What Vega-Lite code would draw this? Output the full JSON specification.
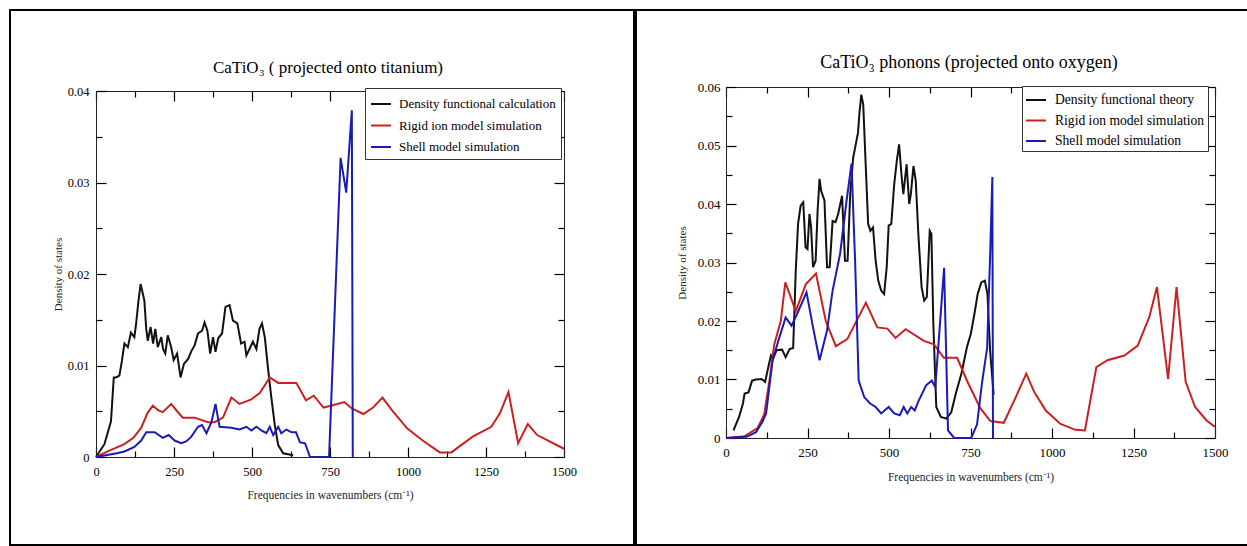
{
  "$schema": "https://vega.github.io/schema/vega-lite/v6.json",
  "padding": {"left": 9, "top": 9, "right": 0, "bottom": 0},
  "background": "white",
  "spacing": 0,
  "config": {
    "view": {"stroke": "black", "strokeWidth": 2},
    "font": "Liberation Serif",
    "axis": {
      "grid": false,
      "labelFont": "Liberation Serif",
      "labelColor": "black",
      "labelFlush": false,
      "labelOverlap": false,
      "labelBound": false,
      "domainColor": "#222",
      "domainWidth": 1,
      "tickColor": "black",
      "tickWidth": 1.2,
      "tickOpacity": 1,
      "titleFont": "Liberation Serif",
      "titleFontWeight": "normal",
      "titleColor": "#222"
    },
    "legend": {
      "title": null,
      "fillColor": "white",
      "strokeColor": "#333",
      "symbolType": "stroke",
      "symbolStrokeWidth": 2,
      "symbolSize": 400,
      "labelFont": "Liberation Serif",
      "labelColor": "black",
      "labelLimit": 400
    }
  },
  "resolve": {"scale": {"color": "independent"}, "legend": {"color": "independent"}},
  "datasets": {
    "left": [
      {"s": "Density functional calculation", "x": 0, "y": 0},
      {"s": "Density functional calculation", "x": 27, "y": 0.0014},
      {"s": "Density functional calculation", "x": 48, "y": 0.0039},
      {"s": "Density functional calculation", "x": 57, "y": 0.0087},
      {"s": "Density functional calculation", "x": 64, "y": 0.0087},
      {"s": "Density functional calculation", "x": 75, "y": 0.0089},
      {"s": "Density functional calculation", "x": 83, "y": 0.0105},
      {"s": "Density functional calculation", "x": 91, "y": 0.0124},
      {"s": "Density functional calculation", "x": 102, "y": 0.012},
      {"s": "Density functional calculation", "x": 112, "y": 0.0136},
      {"s": "Density functional calculation", "x": 123, "y": 0.0131},
      {"s": "Density functional calculation", "x": 128, "y": 0.0144},
      {"s": "Density functional calculation", "x": 136, "y": 0.017},
      {"s": "Density functional calculation", "x": 143, "y": 0.0189},
      {"s": "Density functional calculation", "x": 149, "y": 0.018},
      {"s": "Density functional calculation", "x": 155, "y": 0.0171},
      {"s": "Density functional calculation", "x": 161, "y": 0.014},
      {"s": "Density functional calculation", "x": 166, "y": 0.0127},
      {"s": "Density functional calculation", "x": 175, "y": 0.0142},
      {"s": "Density functional calculation", "x": 183, "y": 0.0124},
      {"s": "Density functional calculation", "x": 190, "y": 0.014},
      {"s": "Density functional calculation", "x": 198, "y": 0.012},
      {"s": "Density functional calculation", "x": 209, "y": 0.0131},
      {"s": "Density functional calculation", "x": 215, "y": 0.0118},
      {"s": "Density functional calculation", "x": 222, "y": 0.0113},
      {"s": "Density functional calculation", "x": 230, "y": 0.0133},
      {"s": "Density functional calculation", "x": 241, "y": 0.012},
      {"s": "Density functional calculation", "x": 249, "y": 0.0106},
      {"s": "Density functional calculation", "x": 260, "y": 0.0113},
      {"s": "Density functional calculation", "x": 271, "y": 0.0087},
      {"s": "Density functional calculation", "x": 282, "y": 0.0102},
      {"s": "Density functional calculation", "x": 295, "y": 0.0107},
      {"s": "Density functional calculation", "x": 306, "y": 0.0116},
      {"s": "Density functional calculation", "x": 316, "y": 0.0122},
      {"s": "Density functional calculation", "x": 327, "y": 0.0135},
      {"s": "Density functional calculation", "x": 340, "y": 0.0138},
      {"s": "Density functional calculation", "x": 348, "y": 0.0147},
      {"s": "Density functional calculation", "x": 357, "y": 0.0138},
      {"s": "Density functional calculation", "x": 366, "y": 0.0113},
      {"s": "Density functional calculation", "x": 375, "y": 0.0131},
      {"s": "Density functional calculation", "x": 383, "y": 0.0115},
      {"s": "Density functional calculation", "x": 392, "y": 0.013},
      {"s": "Density functional calculation", "x": 404, "y": 0.0135},
      {"s": "Density functional calculation", "x": 415, "y": 0.0164},
      {"s": "Density functional calculation", "x": 428, "y": 0.0166},
      {"s": "Density functional calculation", "x": 439, "y": 0.0149},
      {"s": "Density functional calculation", "x": 453, "y": 0.0146},
      {"s": "Density functional calculation", "x": 465, "y": 0.0124},
      {"s": "Density functional calculation", "x": 476, "y": 0.0126},
      {"s": "Density functional calculation", "x": 482, "y": 0.0111},
      {"s": "Density functional calculation", "x": 492, "y": 0.0118},
      {"s": "Density functional calculation", "x": 503, "y": 0.0126},
      {"s": "Density functional calculation", "x": 514, "y": 0.0118},
      {"s": "Density functional calculation", "x": 524, "y": 0.014},
      {"s": "Density functional calculation", "x": 532, "y": 0.0146},
      {"s": "Density functional calculation", "x": 541, "y": 0.0131},
      {"s": "Density functional calculation", "x": 551, "y": 0.0098},
      {"s": "Density functional calculation", "x": 562, "y": 0.0065},
      {"s": "Density functional calculation", "x": 573, "y": 0.0035},
      {"s": "Density functional calculation", "x": 584, "y": 0.0013},
      {"s": "Density functional calculation", "x": 600, "y": 0.0004},
      {"s": "Density functional calculation", "x": 632, "y": 0.0002},
      {"s": "Rigid ion model simulation", "x": 0, "y": 0},
      {"s": "Rigid ion model simulation", "x": 43, "y": 0.0007},
      {"s": "Rigid ion model simulation", "x": 91, "y": 0.0014},
      {"s": "Rigid ion model simulation", "x": 120, "y": 0.0021},
      {"s": "Rigid ion model simulation", "x": 145, "y": 0.0032},
      {"s": "Rigid ion model simulation", "x": 165, "y": 0.0048},
      {"s": "Rigid ion model simulation", "x": 182, "y": 0.0056},
      {"s": "Rigid ion model simulation", "x": 200, "y": 0.0051},
      {"s": "Rigid ion model simulation", "x": 214, "y": 0.0049},
      {"s": "Rigid ion model simulation", "x": 241, "y": 0.0058},
      {"s": "Rigid ion model simulation", "x": 260, "y": 0.005},
      {"s": "Rigid ion model simulation", "x": 278, "y": 0.0043},
      {"s": "Rigid ion model simulation", "x": 316, "y": 0.0043},
      {"s": "Rigid ion model simulation", "x": 359, "y": 0.0038},
      {"s": "Rigid ion model simulation", "x": 380, "y": 0.0038},
      {"s": "Rigid ion model simulation", "x": 407, "y": 0.0043},
      {"s": "Rigid ion model simulation", "x": 434, "y": 0.0065},
      {"s": "Rigid ion model simulation", "x": 460, "y": 0.0058},
      {"s": "Rigid ion model simulation", "x": 498, "y": 0.0063},
      {"s": "Rigid ion model simulation", "x": 525, "y": 0.007},
      {"s": "Rigid ion model simulation", "x": 557, "y": 0.0087},
      {"s": "Rigid ion model simulation", "x": 584, "y": 0.0081},
      {"s": "Rigid ion model simulation", "x": 642, "y": 0.0081},
      {"s": "Rigid ion model simulation", "x": 673, "y": 0.0062},
      {"s": "Rigid ion model simulation", "x": 698, "y": 0.0067},
      {"s": "Rigid ion model simulation", "x": 729, "y": 0.0054},
      {"s": "Rigid ion model simulation", "x": 753, "y": 0.0056},
      {"s": "Rigid ion model simulation", "x": 796, "y": 0.006},
      {"s": "Rigid ion model simulation", "x": 820, "y": 0.0053},
      {"s": "Rigid ion model simulation", "x": 857, "y": 0.0047},
      {"s": "Rigid ion model simulation", "x": 888, "y": 0.0054},
      {"s": "Rigid ion model simulation", "x": 918, "y": 0.0065},
      {"s": "Rigid ion model simulation", "x": 949, "y": 0.0051},
      {"s": "Rigid ion model simulation", "x": 998, "y": 0.0031},
      {"s": "Rigid ion model simulation", "x": 1047, "y": 0.0018},
      {"s": "Rigid ion model simulation", "x": 1102, "y": 0.0005},
      {"s": "Rigid ion model simulation", "x": 1139, "y": 0.0005},
      {"s": "Rigid ion model simulation", "x": 1206, "y": 0.0022},
      {"s": "Rigid ion model simulation", "x": 1267, "y": 0.0033},
      {"s": "Rigid ion model simulation", "x": 1295, "y": 0.0048},
      {"s": "Rigid ion model simulation", "x": 1322, "y": 0.0071},
      {"s": "Rigid ion model simulation", "x": 1353, "y": 0.0015},
      {"s": "Rigid ion model simulation", "x": 1384, "y": 0.0036},
      {"s": "Rigid ion model simulation", "x": 1414, "y": 0.0024},
      {"s": "Rigid ion model simulation", "x": 1500, "y": 0.0009},
      {"s": "Shell model simulation", "x": 0, "y": 0},
      {"s": "Shell model simulation", "x": 67, "y": 0.0004},
      {"s": "Shell model simulation", "x": 91, "y": 0.0006},
      {"s": "Shell model simulation", "x": 123, "y": 0.0011},
      {"s": "Shell model simulation", "x": 145, "y": 0.0018},
      {"s": "Shell model simulation", "x": 161, "y": 0.0027},
      {"s": "Shell model simulation", "x": 188, "y": 0.0027},
      {"s": "Shell model simulation", "x": 214, "y": 0.0021},
      {"s": "Shell model simulation", "x": 233, "y": 0.0024},
      {"s": "Shell model simulation", "x": 252, "y": 0.0018},
      {"s": "Shell model simulation", "x": 273, "y": 0.0015},
      {"s": "Shell model simulation", "x": 289, "y": 0.0017},
      {"s": "Shell model simulation", "x": 305, "y": 0.0022},
      {"s": "Shell model simulation", "x": 327, "y": 0.0033},
      {"s": "Shell model simulation", "x": 340, "y": 0.0035},
      {"s": "Shell model simulation", "x": 354, "y": 0.0026},
      {"s": "Shell model simulation", "x": 370, "y": 0.0038},
      {"s": "Shell model simulation", "x": 383, "y": 0.0058},
      {"s": "Shell model simulation", "x": 396, "y": 0.0033},
      {"s": "Shell model simulation", "x": 434, "y": 0.0032},
      {"s": "Shell model simulation", "x": 460, "y": 0.003},
      {"s": "Shell model simulation", "x": 482, "y": 0.0033},
      {"s": "Shell model simulation", "x": 498, "y": 0.0029},
      {"s": "Shell model simulation", "x": 514, "y": 0.0033},
      {"s": "Shell model simulation", "x": 530, "y": 0.0029},
      {"s": "Shell model simulation", "x": 546, "y": 0.0026},
      {"s": "Shell model simulation", "x": 557, "y": 0.0033},
      {"s": "Shell model simulation", "x": 568, "y": 0.0024},
      {"s": "Shell model simulation", "x": 584, "y": 0.0033},
      {"s": "Shell model simulation", "x": 594, "y": 0.0026},
      {"s": "Shell model simulation", "x": 610, "y": 0.003},
      {"s": "Shell model simulation", "x": 627, "y": 0.0027},
      {"s": "Shell model simulation", "x": 641, "y": 0.0027},
      {"s": "Shell model simulation", "x": 654, "y": 0.0016},
      {"s": "Shell model simulation", "x": 670, "y": 0.0015},
      {"s": "Shell model simulation", "x": 686, "y": 0},
      {"s": "Shell model simulation", "x": 747, "y": 0},
      {"s": "Shell model simulation", "x": 784, "y": 0.0327},
      {"s": "Shell model simulation", "x": 802, "y": 0.0289},
      {"s": "Shell model simulation", "x": 820, "y": 0.0379},
      {"s": "Shell model simulation", "x": 823, "y": 0}
    ],
    "right": [
      {"s": "Density functional theory", "x": 23, "y": 0.0013},
      {"s": "Density functional theory", "x": 40, "y": 0.0036},
      {"s": "Density functional theory", "x": 52, "y": 0.0059},
      {"s": "Density functional theory", "x": 57, "y": 0.0076},
      {"s": "Density functional theory", "x": 69, "y": 0.0078},
      {"s": "Density functional theory", "x": 80, "y": 0.0098},
      {"s": "Density functional theory", "x": 92, "y": 0.01},
      {"s": "Density functional theory", "x": 109, "y": 0.0101},
      {"s": "Density functional theory", "x": 120, "y": 0.0096},
      {"s": "Density functional theory", "x": 132, "y": 0.0127},
      {"s": "Density functional theory", "x": 138, "y": 0.0141},
      {"s": "Density functional theory", "x": 144, "y": 0.0135},
      {"s": "Density functional theory", "x": 155, "y": 0.015},
      {"s": "Density functional theory", "x": 172, "y": 0.0151},
      {"s": "Density functional theory", "x": 183, "y": 0.0138},
      {"s": "Density functional theory", "x": 195, "y": 0.0152},
      {"s": "Density functional theory", "x": 206, "y": 0.0154},
      {"s": "Density functional theory", "x": 214, "y": 0.0286},
      {"s": "Density functional theory", "x": 221, "y": 0.0366},
      {"s": "Density functional theory", "x": 229, "y": 0.0397},
      {"s": "Density functional theory", "x": 237, "y": 0.0403},
      {"s": "Density functional theory", "x": 244, "y": 0.0326},
      {"s": "Density functional theory", "x": 250, "y": 0.0323},
      {"s": "Density functional theory", "x": 256, "y": 0.0383},
      {"s": "Density functional theory", "x": 261, "y": 0.036},
      {"s": "Density functional theory", "x": 267, "y": 0.0292},
      {"s": "Density functional theory", "x": 275, "y": 0.0303},
      {"s": "Density functional theory", "x": 281, "y": 0.0388},
      {"s": "Density functional theory", "x": 287, "y": 0.0443},
      {"s": "Density functional theory", "x": 292, "y": 0.0422},
      {"s": "Density functional theory", "x": 302, "y": 0.0406},
      {"s": "Density functional theory", "x": 310, "y": 0.0292},
      {"s": "Density functional theory", "x": 318, "y": 0.0292},
      {"s": "Density functional theory", "x": 327, "y": 0.0371},
      {"s": "Density functional theory", "x": 336, "y": 0.0369},
      {"s": "Density functional theory", "x": 344, "y": 0.0383},
      {"s": "Density functional theory", "x": 356, "y": 0.0414},
      {"s": "Density functional theory", "x": 365, "y": 0.0303},
      {"s": "Density functional theory", "x": 373, "y": 0.0303},
      {"s": "Density functional theory", "x": 381, "y": 0.0417},
      {"s": "Density functional theory", "x": 390, "y": 0.0479},
      {"s": "Density functional theory", "x": 398, "y": 0.0502},
      {"s": "Density functional theory", "x": 405, "y": 0.0522},
      {"s": "Density functional theory", "x": 409, "y": 0.0553},
      {"s": "Density functional theory", "x": 415, "y": 0.0587},
      {"s": "Density functional theory", "x": 421, "y": 0.057},
      {"s": "Density functional theory", "x": 428, "y": 0.0474},
      {"s": "Density functional theory", "x": 436, "y": 0.0366},
      {"s": "Density functional theory", "x": 443, "y": 0.0354},
      {"s": "Density functional theory", "x": 451, "y": 0.036},
      {"s": "Density functional theory", "x": 459, "y": 0.0303},
      {"s": "Density functional theory", "x": 467, "y": 0.0269},
      {"s": "Density functional theory", "x": 476, "y": 0.0252},
      {"s": "Density functional theory", "x": 485, "y": 0.0246},
      {"s": "Density functional theory", "x": 493, "y": 0.0292},
      {"s": "Density functional theory", "x": 499, "y": 0.0363},
      {"s": "Density functional theory", "x": 507, "y": 0.0366},
      {"s": "Density functional theory", "x": 516, "y": 0.0434},
      {"s": "Density functional theory", "x": 524, "y": 0.0474},
      {"s": "Density functional theory", "x": 531, "y": 0.0502},
      {"s": "Density functional theory", "x": 539, "y": 0.0445},
      {"s": "Density functional theory", "x": 544, "y": 0.0417},
      {"s": "Density functional theory", "x": 554, "y": 0.0468},
      {"s": "Density functional theory", "x": 562, "y": 0.04},
      {"s": "Density functional theory", "x": 567, "y": 0.0417},
      {"s": "Density functional theory", "x": 575, "y": 0.0465},
      {"s": "Density functional theory", "x": 582, "y": 0.044},
      {"s": "Density functional theory", "x": 590, "y": 0.0349},
      {"s": "Density functional theory", "x": 600, "y": 0.0258},
      {"s": "Density functional theory", "x": 608, "y": 0.0235},
      {"s": "Density functional theory", "x": 616, "y": 0.0241},
      {"s": "Density functional theory", "x": 625, "y": 0.0354},
      {"s": "Density functional theory", "x": 630, "y": 0.0349},
      {"s": "Density functional theory", "x": 636, "y": 0.0195},
      {"s": "Density functional theory", "x": 645, "y": 0.0053},
      {"s": "Density functional theory", "x": 659, "y": 0.0036},
      {"s": "Density functional theory", "x": 676, "y": 0.0033},
      {"s": "Density functional theory", "x": 691, "y": 0.0044},
      {"s": "Density functional theory", "x": 705, "y": 0.0076},
      {"s": "Density functional theory", "x": 722, "y": 0.011},
      {"s": "Density functional theory", "x": 739, "y": 0.0155},
      {"s": "Density functional theory", "x": 751, "y": 0.0178},
      {"s": "Density functional theory", "x": 762, "y": 0.0212},
      {"s": "Density functional theory", "x": 772, "y": 0.0246},
      {"s": "Density functional theory", "x": 783, "y": 0.0266},
      {"s": "Density functional theory", "x": 794, "y": 0.0269},
      {"s": "Density functional theory", "x": 802, "y": 0.0246},
      {"s": "Density functional theory", "x": 810, "y": 0.015},
      {"s": "Density functional theory", "x": 821, "y": 0.0074},
      {"s": "Rigid ion model simulation", "x": 0, "y": 0},
      {"s": "Rigid ion model simulation", "x": 56, "y": 0.0003},
      {"s": "Rigid ion model simulation", "x": 97, "y": 0.0017},
      {"s": "Rigid ion model simulation", "x": 117, "y": 0.004},
      {"s": "Rigid ion model simulation", "x": 133, "y": 0.0097},
      {"s": "Rigid ion model simulation", "x": 148, "y": 0.016},
      {"s": "Rigid ion model simulation", "x": 168, "y": 0.02},
      {"s": "Rigid ion model simulation", "x": 182, "y": 0.0266},
      {"s": "Rigid ion model simulation", "x": 214, "y": 0.0217},
      {"s": "Rigid ion model simulation", "x": 245, "y": 0.0263},
      {"s": "Rigid ion model simulation", "x": 276, "y": 0.0281},
      {"s": "Rigid ion model simulation", "x": 306, "y": 0.02},
      {"s": "Rigid ion model simulation", "x": 337, "y": 0.0157},
      {"s": "Rigid ion model simulation", "x": 372, "y": 0.0169},
      {"s": "Rigid ion model simulation", "x": 429, "y": 0.0231},
      {"s": "Rigid ion model simulation", "x": 464, "y": 0.0189},
      {"s": "Rigid ion model simulation", "x": 495, "y": 0.0187},
      {"s": "Rigid ion model simulation", "x": 520, "y": 0.0171},
      {"s": "Rigid ion model simulation", "x": 551, "y": 0.0186},
      {"s": "Rigid ion model simulation", "x": 607, "y": 0.0166},
      {"s": "Rigid ion model simulation", "x": 638, "y": 0.016},
      {"s": "Rigid ion model simulation", "x": 668, "y": 0.0137},
      {"s": "Rigid ion model simulation", "x": 709, "y": 0.0137},
      {"s": "Rigid ion model simulation", "x": 740, "y": 0.0097},
      {"s": "Rigid ion model simulation", "x": 780, "y": 0.0051},
      {"s": "Rigid ion model simulation", "x": 811, "y": 0.0029},
      {"s": "Rigid ion model simulation", "x": 852, "y": 0.0026},
      {"s": "Rigid ion model simulation", "x": 889, "y": 0.007},
      {"s": "Rigid ion model simulation", "x": 921, "y": 0.011},
      {"s": "Rigid ion model simulation", "x": 946, "y": 0.0078},
      {"s": "Rigid ion model simulation", "x": 981, "y": 0.0047},
      {"s": "Rigid ion model simulation", "x": 1026, "y": 0.0024},
      {"s": "Rigid ion model simulation", "x": 1072, "y": 0.0014},
      {"s": "Rigid ion model simulation", "x": 1101, "y": 0.0013},
      {"s": "Rigid ion model simulation", "x": 1136, "y": 0.0121},
      {"s": "Rigid ion model simulation", "x": 1170, "y": 0.0133},
      {"s": "Rigid ion model simulation", "x": 1222, "y": 0.0141},
      {"s": "Rigid ion model simulation", "x": 1263, "y": 0.0158},
      {"s": "Rigid ion model simulation", "x": 1298, "y": 0.0206},
      {"s": "Rigid ion model simulation", "x": 1322, "y": 0.0258},
      {"s": "Rigid ion model simulation", "x": 1356, "y": 0.0101},
      {"s": "Rigid ion model simulation", "x": 1382, "y": 0.0258},
      {"s": "Rigid ion model simulation", "x": 1410, "y": 0.0096},
      {"s": "Rigid ion model simulation", "x": 1439, "y": 0.0053},
      {"s": "Rigid ion model simulation", "x": 1474, "y": 0.003},
      {"s": "Rigid ion model simulation", "x": 1500, "y": 0.0019},
      {"s": "Shell model simulation", "x": 0, "y": 0},
      {"s": "Shell model simulation", "x": 63, "y": 0.0002},
      {"s": "Shell model simulation", "x": 92, "y": 0.001},
      {"s": "Shell model simulation", "x": 111, "y": 0.0027},
      {"s": "Shell model simulation", "x": 123, "y": 0.0042},
      {"s": "Shell model simulation", "x": 143, "y": 0.0133},
      {"s": "Shell model simulation", "x": 161, "y": 0.0167},
      {"s": "Shell model simulation", "x": 183, "y": 0.0206},
      {"s": "Shell model simulation", "x": 201, "y": 0.0192},
      {"s": "Shell model simulation", "x": 218, "y": 0.0212},
      {"s": "Shell model simulation", "x": 247, "y": 0.0249},
      {"s": "Shell model simulation", "x": 267, "y": 0.0189},
      {"s": "Shell model simulation", "x": 287, "y": 0.0133},
      {"s": "Shell model simulation", "x": 310, "y": 0.0184},
      {"s": "Shell model simulation", "x": 327, "y": 0.0252},
      {"s": "Shell model simulation", "x": 350, "y": 0.0315},
      {"s": "Shell model simulation", "x": 370, "y": 0.0406},
      {"s": "Shell model simulation", "x": 385, "y": 0.0469},
      {"s": "Shell model simulation", "x": 396, "y": 0.0303},
      {"s": "Shell model simulation", "x": 407, "y": 0.0098},
      {"s": "Shell model simulation", "x": 424, "y": 0.007},
      {"s": "Shell model simulation", "x": 442, "y": 0.0059},
      {"s": "Shell model simulation", "x": 459, "y": 0.0053},
      {"s": "Shell model simulation", "x": 476, "y": 0.0042},
      {"s": "Shell model simulation", "x": 499, "y": 0.0053},
      {"s": "Shell model simulation", "x": 516, "y": 0.0042},
      {"s": "Shell model simulation", "x": 533, "y": 0.0039},
      {"s": "Shell model simulation", "x": 545, "y": 0.0053},
      {"s": "Shell model simulation", "x": 556, "y": 0.0042},
      {"s": "Shell model simulation", "x": 568, "y": 0.0053},
      {"s": "Shell model simulation", "x": 579, "y": 0.0047},
      {"s": "Shell model simulation", "x": 591, "y": 0.0064},
      {"s": "Shell model simulation", "x": 614, "y": 0.009},
      {"s": "Shell model simulation", "x": 631, "y": 0.0098},
      {"s": "Shell model simulation", "x": 642, "y": 0.0087},
      {"s": "Shell model simulation", "x": 669, "y": 0.0291},
      {"s": "Shell model simulation", "x": 681, "y": 0.0013},
      {"s": "Shell model simulation", "x": 700, "y": 0},
      {"s": "Shell model simulation", "x": 752, "y": 0},
      {"s": "Shell model simulation", "x": 770, "y": 0.0023},
      {"s": "Shell model simulation", "x": 786, "y": 0.0097},
      {"s": "Shell model simulation", "x": 801, "y": 0.0154},
      {"s": "Shell model simulation", "x": 811, "y": 0.0326},
      {"s": "Shell model simulation", "x": 817, "y": 0.0446},
      {"s": "Shell model simulation", "x": 819, "y": 0}
    ]
  },
  "hconcat": [
    {
      "width": 624,
      "height": 535,
      "data": {"name": "left"},
      "title": {"text": "CaTiO₃ ( projected onto titanium)", "font": "Liberation Serif", "fontSize": 17, "fontWeight": "normal", "color": "black", "frame": "group", "anchor": "middle", "offset": -67, "dx": 6},
      "resolve": {"axis": {"x": "independent", "y": "independent"}},
      "layer": [
        {
          "mark": {"type": "line", "strokeWidth": 2},
          "encoding": {
            "x": {"field": "x", "type": "quantitative",
              "scale": {"domain": [0, 1500], "range": [86, 554], "nice": false, "zero": false},
              "axis": {"orient": "bottom", "offset": -88, "values": [0, 250, 500, 750, 1000, 1250, 1500], "format": "d",
                "ticks": false, "tickSize": 0, "labelPadding": 8, "labelFontSize": 12.5,
                "title": "Frequencies in wavenumbers (cm⁻¹)", "titleFontSize": 11.5, "titlePadding": 12}},
            "y": {"field": "y", "type": "quantitative",
              "scale": {"domain": [0, 0.04], "range": [447, 81], "nice": false},
              "axis": {"orient": "left", "offset": -86, "values": [0, 0.01, 0.02, 0.03, 0.04], "format": ".2~f",
                "ticks": false, "tickSize": 0, "labelPadding": 7, "labelFontSize": 12.5,
                "title": "Density of states", "titleFontSize": 11, "titlePadding": 4}},
            "color": {"field": "s", "type": "nominal",
              "scale": {"domain": ["Density functional calculation", "Rigid ion model simulation", "Shell model simulation"], "range": ["#111111", "#cc2020", "#1a1ab8"]},
              "legend": {"orient": "none", "legendX": 355, "legendY": 78, "padding": 5, "rowPadding": 3.5, "labelOffset": 7, "labelFontSize": 13}}
          }
        },
        {
          "mark": {"type": "line", "opacity": 0},
          "encoding": {
            "detail": {"field": "s"},
            "x": {"field": "x", "type": "quantitative",
              "scale": {"domain": [0, 1500], "range": [86, 554], "nice": false, "zero": false},
              "axis": {"orient": "top", "offset": -447, "values": [0, 250, 500, 750, 1000, 1250, 1500], "labels": false, "domain": false, "ticks": true, "title": null, "tickSize": 10, "tickColor": "black"}},
            "y": {"field": "y", "type": "quantitative",
              "scale": {"domain": [0, 0.04], "range": [447, 81], "nice": false},
              "axis": {"orient": "right", "offset": -538, "values": [0, 0.01, 0.02, 0.03, 0.04], "labels": false, "domain": false, "ticks": true, "title": null, "tickSize": 10, "tickColor": "black"}}
          }
        },
        {
          "mark": {"type": "line", "opacity": 0},
          "encoding": {
            "detail": {"field": "s"},
            "x": {"field": "x", "type": "quantitative",
              "scale": {"domain": [0, 1500], "range": [86, 554], "nice": false, "zero": false},
              "axis": {"orient": "top", "offset": -447, "values": [125, 375, 625, 875, 1125, 1375], "labels": false, "domain": false, "ticks": true, "title": null, "tickSize": 6, "tickColor": "black"}},
            "y": {"field": "y", "type": "quantitative",
              "scale": {"domain": [0, 0.04], "range": [447, 81], "nice": false},
              "axis": {"orient": "right", "offset": -538, "values": [0.005, 0.015, 0.025, 0.035], "labels": false, "domain": false, "ticks": true, "title": null, "tickSize": 6, "tickColor": "black"}}
          }
        },
        {
          "mark": {"type": "line", "opacity": 0},
          "encoding": {
            "detail": {"field": "s"},
            "x": {"field": "x", "type": "quantitative",
              "scale": {"domain": [0, 1500], "range": [86, 554], "nice": false, "zero": false},
              "axis": {"orient": "bottom", "offset": -454, "values": [0, 250, 500, 750, 1000, 1250, 1500], "labels": false, "domain": true, "ticks": true, "title": null, "tickSize": 10, "tickColor": "black"}},
            "y": {"field": "y", "type": "quantitative",
              "scale": {"domain": [0, 0.04], "range": [447, 81], "nice": false},
              "axis": {"orient": "left", "offset": -554, "values": [0, 0.01, 0.02, 0.03, 0.04], "labels": false, "domain": true, "ticks": true, "title": null, "tickSize": 10, "tickColor": "black"}}
          }
        },
        {
          "mark": {"type": "line", "opacity": 0},
          "encoding": {
            "detail": {"field": "s"},
            "x": {"field": "x", "type": "quantitative",
              "scale": {"domain": [0, 1500], "range": [86, 554], "nice": false, "zero": false},
              "axis": {"orient": "bottom", "offset": -454, "values": [125, 375, 625, 875, 1125, 1375], "labels": false, "domain": false, "ticks": true, "title": null, "tickSize": 6, "tickColor": "black"}},
            "y": {"field": "y", "type": "quantitative",
              "scale": {"domain": [0, 0.04], "range": [447, 81], "nice": false},
              "axis": {"orient": "left", "offset": -554, "values": [0.005, 0.015, 0.025, 0.035], "labels": false, "domain": false, "ticks": true, "title": null, "tickSize": 6, "tickColor": "black"}}
          }
        }
      ]
    },
    {
      "width": 612,
      "height": 535,
      "data": {"name": "right"},
      "title": {"text": "CaTiO₃ phonons (projected onto oxygen)", "font": "Liberation Serif", "fontSize": 18, "fontWeight": "normal", "color": "black", "frame": "group", "anchor": "middle", "offset": -62, "dx": 27},
      "resolve": {"axis": {"x": "independent", "y": "independent"}},
      "layer": [
        {
          "mark": {"type": "line", "strokeWidth": 2},
          "encoding": {
            "x": {"field": "x", "type": "quantitative",
              "scale": {"domain": [0, 1500], "range": [90, 579], "nice": false, "zero": false},
              "axis": {"orient": "bottom", "offset": -107, "values": [0, 250, 500, 750, 1000, 1250, 1500], "format": "d",
                "ticks": false, "tickSize": 0, "labelPadding": 8, "labelFontSize": 13,
                "title": "Frequencies in wavenumbers (cm⁻¹)", "titleFontSize": 11.5, "titlePadding": 12}},
            "y": {"field": "y", "type": "quantitative",
              "scale": {"domain": [0, 0.06], "range": [428, 77], "nice": false},
              "axis": {"orient": "left", "offset": -90, "values": [0, 0.01, 0.02, 0.03, 0.04, 0.05, 0.06], "format": ".2~f",
                "ticks": false, "tickSize": 0, "labelPadding": 6, "labelFontSize": 13,
                "title": "Density of states", "titleFontSize": 11, "titlePadding": 10}},
            "color": {"field": "s", "type": "nominal",
              "scale": {"domain": ["Density functional theory", "Rigid ion model simulation", "Shell model simulation"], "range": ["#111111", "#cc2020", "#1a1ab8"]},
              "legend": {"orient": "none", "legendX": 386, "legendY": 76, "padding": 3, "rowPadding": 2.5, "labelOffset": 8, "labelFontSize": 13.6}}
          }
        },
        {
          "mark": {"type": "line", "opacity": 0},
          "encoding": {
            "detail": {"field": "s"},
            "x": {"field": "x", "type": "quantitative",
              "scale": {"domain": [0, 1500], "range": [90, 579], "nice": false, "zero": false},
              "axis": {"orient": "top", "offset": -428, "values": [0, 250, 500, 750, 1000, 1250, 1500], "labels": false, "domain": false, "ticks": true, "title": null, "tickSize": 10, "tickColor": "black"}},
            "y": {"field": "y", "type": "quantitative",
              "scale": {"domain": [0, 0.06], "range": [428, 77], "nice": false},
              "axis": {"orient": "right", "offset": -522, "values": [0, 0.01, 0.02, 0.03, 0.04, 0.05, 0.06], "labels": false, "domain": false, "ticks": true, "title": null, "tickSize": 10, "tickColor": "black"}}
          }
        },
        {
          "mark": {"type": "line", "opacity": 0},
          "encoding": {
            "detail": {"field": "s"},
            "x": {"field": "x", "type": "quantitative",
              "scale": {"domain": [0, 1500], "range": [90, 579], "nice": false, "zero": false},
              "axis": {"orient": "top", "offset": -428, "values": [125, 375, 625, 875, 1125, 1375], "labels": false, "domain": false, "ticks": true, "title": null, "tickSize": 6, "tickColor": "black"}},
            "y": {"field": "y", "type": "quantitative",
              "scale": {"domain": [0, 0.06], "range": [428, 77], "nice": false},
              "axis": {"orient": "right", "offset": -522, "values": [0.005, 0.015, 0.025, 0.035, 0.045, 0.055], "labels": false, "domain": false, "ticks": true, "title": null, "tickSize": 6, "tickColor": "black"}}
          }
        },
        {
          "mark": {"type": "line", "opacity": 0},
          "encoding": {
            "detail": {"field": "s"},
            "x": {"field": "x", "type": "quantitative",
              "scale": {"domain": [0, 1500], "range": [90, 579], "nice": false, "zero": false},
              "axis": {"orient": "bottom", "offset": -458, "values": [0, 250, 500, 750, 1000, 1250, 1500], "labels": false, "domain": true, "ticks": true, "title": null, "tickSize": 10, "tickColor": "black"}},
            "y": {"field": "y", "type": "quantitative",
              "scale": {"domain": [0, 0.06], "range": [428, 77], "nice": false},
              "axis": {"orient": "left", "offset": -579, "values": [0, 0.01, 0.02, 0.03, 0.04, 0.05, 0.06], "labels": false, "domain": true, "ticks": true, "title": null, "tickSize": 10, "tickColor": "black"}}
          }
        },
        {
          "mark": {"type": "line", "opacity": 0},
          "encoding": {
            "detail": {"field": "s"},
            "x": {"field": "x", "type": "quantitative",
              "scale": {"domain": [0, 1500], "range": [90, 579], "nice": false, "zero": false},
              "axis": {"orient": "bottom", "offset": -458, "values": [125, 375, 625, 875, 1125, 1375], "labels": false, "domain": false, "ticks": true, "title": null, "tickSize": 6, "tickColor": "black"}},
            "y": {"field": "y", "type": "quantitative",
              "scale": {"domain": [0, 0.06], "range": [428, 77], "nice": false},
              "axis": {"orient": "left", "offset": -579, "values": [0.005, 0.015, 0.025, 0.035, 0.045, 0.055], "labels": false, "domain": false, "ticks": true, "title": null, "tickSize": 6, "tickColor": "black"}}
          }
        }
      ]
    }
  ]
}
